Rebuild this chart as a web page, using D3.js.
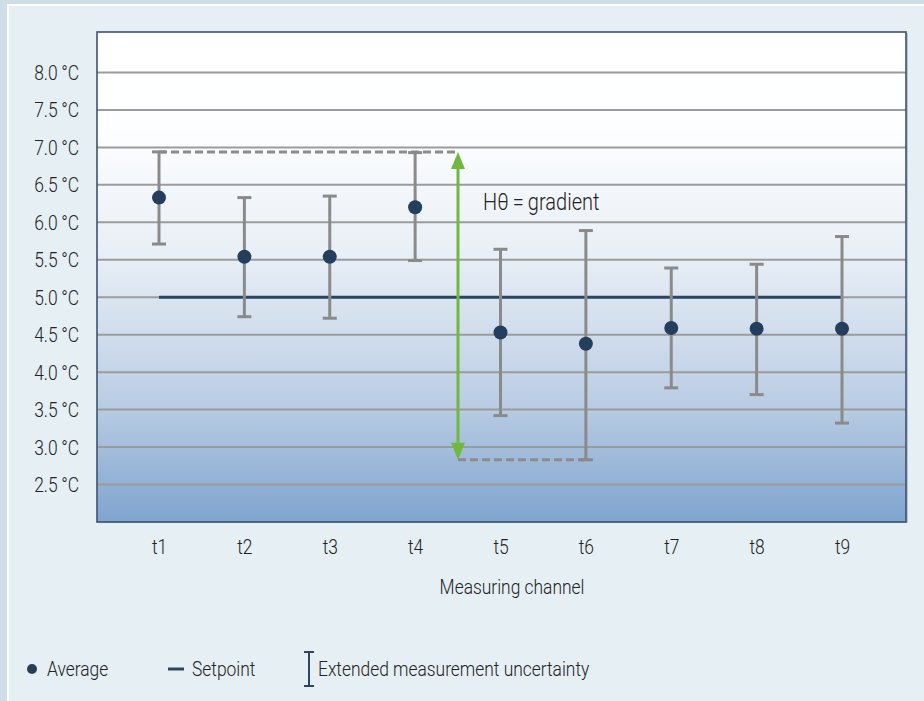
<!DOCTYPE html>
<html><head><meta charset="utf-8">
<script src="https://cdn.jsdelivr.net/npm/d3@7"></script>
<style>
html,body{margin:0;padding:0;background:#e5eff4;}
svg{display:block;}
text{font-family:"Roboto","Liberation Sans",sans-serif;font-weight:300;fill:#222;}
</style></head>
<body>
<script>
const channels = ["t1","t2","t3","t4","t5","t6","t7","t8","t9"];
const averages = [6.33,5.54,5.54,6.20,4.53,4.38,4.59,4.58,4.58];
const upper    = [6.94,6.33,6.35,6.93,5.64,5.89,5.39,5.44,5.81];
const lower    = [5.71,4.74,4.72,5.49,3.42,2.83,3.79,3.70,3.32];
const setpoint = 5.0;
const yTicks = [2.5,3.0,3.5,4.0,4.5,5.0,5.5,6.0,6.5,7.0,7.5,8.0];
const gradMax = 6.94, gradMin = 2.83;

const W = 924, H = 701;
const SX = 0.87; // horizontal condensation of text
const svg = d3.select("body").append("svg").attr("width", W).attr("height", H);

function ctext(x0, y0, str, size, anchor) {
  return svg.append("text").attr("transform", `translate(${x0},${y0}) scale(${SX},1)`)
    .attr("font-size", size).attr("text-anchor", anchor || "start").text(str);
}

// frame
svg.append("rect").attr("x",0).attr("y",0).attr("width",W).attr("height",H).attr("fill","#cfdde8");
svg.append("rect").attr("x",7).attr("y",4).attr("width",W-7).attr("height",H-4).attr("fill","#ffffff");
svg.append("rect").attr("x",9).attr("y",6).attr("width",W-9).attr("height",H-6).attr("fill","#e5eff4");

const L = 97, R = 906, T = 32, B = 522;
const y = d3.scaleLinear().domain([2.0, 8.54]).range([B, T]);
const x = d3.scalePoint().domain(channels).range([159, 842]);

// plot background gradient
const defs = svg.append("defs");
const lg = defs.append("linearGradient").attr("id","bg").attr("x1",0).attr("y1",0).attr("x2",0).attr("y2",1);
lg.append("stop").attr("offset","0%").attr("stop-color","#ffffff");
lg.append("stop").attr("offset","20%").attr("stop-color","#fdfeff");
lg.append("stop").attr("offset","45%").attr("stop-color","#e9eff6");
lg.append("stop").attr("offset","75%").attr("stop-color","#bccee4");
lg.append("stop").attr("offset","100%").attr("stop-color","#7ea4cf");
svg.append("rect").attr("x",L+2).attr("y",T+1).attr("width",R-L).attr("height",B-T).attr("fill","#9aa6b2").attr("opacity",0.6);
svg.append("rect").attr("x",L).attr("y",T).attr("width",R-L).attr("height",B-T).attr("fill","url(#bg)");

// gridlines
svg.append("g").selectAll("line").data(yTicks).join("line")
  .attr("x1",L).attr("x2",R).attr("y1",d=>y(d)).attr("y2",d=>y(d))
  .attr("stroke","#9b9b9b").attr("stroke-width",2);

svg.append("rect").attr("x",L).attr("y",T).attr("width",R-L).attr("height",B-T)
  .attr("fill","none").attr("stroke","#3c5373").attr("stroke-width",1.6);

// y axis labels
const yAxis = d3.axisLeft(y).tickValues(yTicks).tickSize(0).tickPadding(0)
  .tickFormat(d => d3.format(".1f")(d) + "\u2009°C");
const ya = svg.append("g").attr("transform",`translate(${L-18},0)`).call(yAxis);
ya.select(".domain").remove();
ya.selectAll("text").attr("font-size",20).attr("fill","#222").attr("x",0).attr("dy","0.35em")
  .attr("transform",`scale(${SX},1)`).style("font-family","Roboto,'Liberation Sans',sans-serif").style("font-weight",300);

// x axis labels
const xAxis = d3.axisBottom(x).tickSize(0).tickPadding(0);
const xa = svg.append("g").attr("transform",`translate(0,${B+18})`).call(xAxis);
xa.select(".domain").remove();
xa.selectAll("text").attr("font-size",20).attr("fill","#222")
  .attr("transform",`scale(${SX},1)`).style("font-family","Roboto,'Liberation Sans',sans-serif").style("font-weight",300);

ctext(512, 594, "Measuring channel", 20, "middle");

// setpoint
svg.append("line").attr("x1",x("t1")).attr("x2",x("t9")).attr("y1",y(setpoint)).attr("y2",y(setpoint))
  .attr("stroke","#2b4663").attr("stroke-width",3);

// dashed gradient lines
const arrowX = 458;
svg.append("line").attr("x1",x("t1")).attr("x2",arrowX).attr("y1",y(gradMax)).attr("y2",y(gradMax))
  .attr("stroke","#8c8c8c").attr("stroke-width",3).attr("stroke-dasharray","8,4");
svg.append("line").attr("x1",arrowX).attr("x2",x("t6")).attr("y1",y(gradMin)).attr("y2",y(gradMin))
  .attr("stroke","#8c8c8c").attr("stroke-width",3).attr("stroke-dasharray","8,4");

// error bars
const data = channels.map((c,i)=>({c, avg:averages[i], hi:upper[i], lo:lower[i]}));
const eb = svg.append("g").selectAll("g").data(data).join("g");
eb.append("line").attr("x1",d=>x(d.c)).attr("x2",d=>x(d.c)).attr("y1",d=>y(d.hi)).attr("y2",d=>y(d.lo))
  .attr("stroke","#8a8a8a").attr("stroke-width",3);
eb.append("line").attr("x1",d=>x(d.c)-7).attr("x2",d=>x(d.c)+7).attr("y1",d=>y(d.hi)).attr("y2",d=>y(d.hi))
  .attr("stroke","#8a8a8a").attr("stroke-width",3);
eb.append("line").attr("x1",d=>x(d.c)-7).attr("x2",d=>x(d.c)+7).attr("y1",d=>y(d.lo)).attr("y2",d=>y(d.lo))
  .attr("stroke","#8a8a8a").attr("stroke-width",3);
eb.append("circle").attr("cx",d=>x(d.c)).attr("cy",d=>y(d.avg)).attr("r",7).attr("fill","#243f5e");

// green arrow
const ya1 = y(gradMax), ya2 = y(gradMin);
svg.append("line").attr("x1",arrowX).attr("x2",arrowX).attr("y1",ya1+12).attr("y2",ya2-12)
  .attr("stroke","#6fba3d").attr("stroke-width",3);
svg.append("path").attr("d",`M${arrowX},${ya1} L${arrowX-7},${ya1+17} L${arrowX+7},${ya1+17} Z`).attr("fill","#6fba3d");
svg.append("path").attr("d",`M${arrowX},${ya2} L${arrowX-7},${ya2-17} L${arrowX+7},${ya2-17} Z`).attr("fill","#6fba3d");

ctext(483, 210, "Hθ\u2009=\u2009gradient", 23, "start");

// legend
const lgY = 669;
svg.append("circle").attr("cx",32).attr("cy",lgY).attr("r",5).attr("fill","#243f5e");
ctext(47, lgY+7, "Average", 20);
svg.append("line").attr("x1",168).attr("x2",184).attr("y1",lgY).attr("y2",lgY).attr("stroke","#2b4663").attr("stroke-width",3);
ctext(192, lgY+7, "Setpoint", 20);
const ix = 309;
svg.append("line").attr("x1",ix).attr("x2",ix).attr("y1",lgY-17).attr("y2",lgY+17).attr("stroke","#2b4663").attr("stroke-width",2);
svg.append("line").attr("x1",ix-5).attr("x2",ix+5).attr("y1",lgY-17).attr("y2",lgY-17).attr("stroke","#2b4663").attr("stroke-width",2);
svg.append("line").attr("x1",ix-5).attr("x2",ix+5).attr("y1",lgY+17).attr("y2",lgY+17).attr("stroke","#2b4663").attr("stroke-width",2);
ctext(318, lgY+7, "Extended measurement uncertainty", 20);
</script>
</body></html>
